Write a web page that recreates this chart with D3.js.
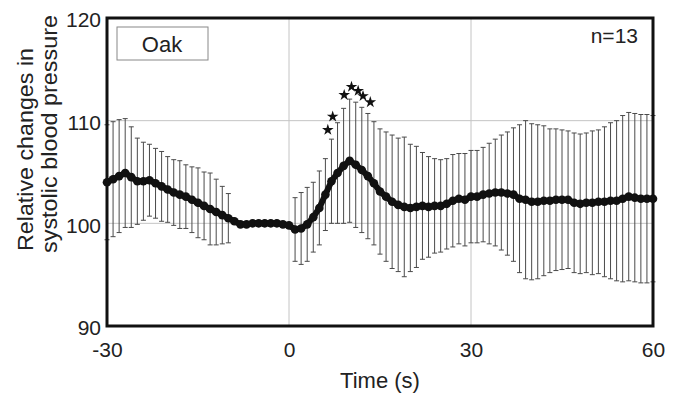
<!DOCTYPE html>
<html>
<head>
<meta charset="utf-8">
<script src="https://cdn.jsdelivr.net/npm/d3@7"></script>
<style>
    body { margin: 0; background: #fff; }
    text { font-family: "Liberation Sans", Arial, sans-serif; fill: #222; }
</style>
</head>
<body>
<div class="chart"></div>
<script>
// time (s) of each averaged sample
var times = [
    -30, -29, -28, -27, -26, -25, -24, -23, -22, -21,
    -20, -19, -18, -17, -16, -15, -14, -13, -12, -11,
    -10, -9, -8, -7, -6, -5, -4, -3, -2, -1,
    0, 1, 2, 3, 4, 5, 6, 7, 8, 9,
    10, 11, 12, 13, 14, 15, 16, 17, 18, 19,
    20, 21, 22, 23, 24, 25, 26, 27, 28, 29,
    30, 31, 32, 33, 34, 35, 36, 37, 38, 39,
    40, 41, 42, 43, 44, 45, 46, 47, 48, 49,
    50, 51, 52, 53, 54, 55, 56, 57, 58, 59,
    60
];

// mean relative systolic pressure
var meanValues = [
    104.0, 104.3, 104.6, 104.9, 104.5, 104.1, 104.1, 104.2, 103.9, 103.6,
    103.3, 103.0, 102.8, 102.6, 102.3, 102.0, 101.7, 101.4, 101.1, 100.8,
    100.5, 100.2, 99.9, 99.9, 100.0, 100.0, 100.0, 100.0, 100.0, 99.9,
    99.8, 99.4, 99.5, 99.9, 100.6, 101.5, 102.8, 104.1, 104.9, 105.6,
    106.1, 105.7, 105.2, 104.6, 103.9, 103.1, 102.6, 102.1, 101.8, 101.6,
    101.5, 101.6, 101.7, 101.6, 101.7, 101.7, 101.9, 102.2, 102.4, 102.3,
    102.6, 102.6, 102.8, 102.9, 103.0, 103.0, 102.9, 102.8, 102.4, 102.3,
    102.1, 102.1, 102.2, 102.2, 102.3, 102.3, 102.3, 102.0, 101.9, 102.0,
    102.0, 102.1, 102.1, 102.2, 102.2, 102.4, 102.6, 102.5, 102.4, 102.4,
    102.4
];

// standard deviation (null = no bar drawn)
var sdValues = [
    5.6, 5.6, 5.5, 5.3, 4.9, 4.2, 3.8, 3.5, 3.4, 3.4,
    3.2, 3.2, 3.3, 3.1, 3.2, 3.4, 3.3, 3.5, 3.2, 2.8,
    2.4, null, null, null, null, null, null, null, null, null,
    null, 3.1, 3.5, 3.6, 3.4, 3.6, 3.5, 4.1, 4.9, 5.6,
    6.0, 6.1, 6.1, 6.1, 6.0, 6.1, 6.3, 6.5, 6.5, 6.8,
    6.2, 5.9, 5.2, 4.9, 4.6, 4.5, 4.4, 4.5, 4.4, 4.5,
    4.5, 4.5, 4.6, 4.9, 5.2, 5.6, 6.0, 6.5, 7.2, 7.7,
    7.6, 7.5, 7.3, 7.0, 6.9, 6.8, 6.7, 6.8, 6.8, 6.8,
    7.0, 7.0, 7.3, 7.6, 7.8, 8.1, 8.2, 8.2, 8.2, 8.2,
    8.1
];

// significance stars
var sigTimes = [6.4, 7.2, 9.1, 10.3, 11.4, 12.2, 13.4];
var sigLevels = [109.1, 110.4, 112.5, 113.3, 112.9, 112.4, 111.8];

var xTicks = [-30, 0, 30, 60];
var yTicks = [90, 100, 110, 120];

var width = 678,
    height = 397,
    margin = {top: 18, right: 25, bottom: 71, left: 107},
    plotW = width - margin.left - margin.right,
    plotH = height - margin.top - margin.bottom;

var data = times.map(function(t, i) {
    return {t: t, mean: meanValues[i], sd: sdValues[i]};
});

var x = d3.scaleLinear().domain([-30, 60]).range([0, plotW]);
var y = d3.scaleLinear().domain([90, 120]).range([plotH, 0]);

var svg = d3.select(".chart").append("svg")
    .attr("width", width)
    .attr("height", height);

var g = svg.append("g")
    .attr("transform", "translate(" + margin.left + "," + margin.top + ")");

// grid lines
g.append("g").selectAll("line")
    .data(xTicks.slice(1, -1))
    .enter().append("line")
    .attr("x1", function(d) { return x(d); })
    .attr("x2", function(d) { return x(d); })
    .attr("y1", 0).attr("y2", plotH)
    .attr("stroke", "#c4c4c4").attr("stroke-width", 1);

g.append("g").selectAll("line")
    .data(yTicks.slice(1, -1))
    .enter().append("line")
    .attr("x1", 0).attr("x2", plotW)
    .attr("y1", function(d) { return y(d); })
    .attr("y2", function(d) { return y(d); })
    .attr("stroke", "#c4c4c4").attr("stroke-width", 1);

// axes (labels only, frame drawn below)
var plainNum = function(d) { return String(d); };

var xAxis = g.append("g")
    .attr("transform", "translate(0," + plotH + ")")
    .call(d3.axisBottom(x).tickValues(xTicks).tickFormat(plainNum).tickSize(0).tickPadding(16));

var yAxis = g.append("g")
    .call(d3.axisLeft(y).tickValues(yTicks).tickFormat(plainNum).tickSize(0).tickPadding(6));

[xAxis, yAxis].forEach(function(a) {
    a.select(".domain").remove();
    a.selectAll("text")
        .attr("font-family", "Liberation Sans, Arial, sans-serif")
        .attr("font-size", 21)
        .attr("fill", "#222");
});
yAxis.selectAll("text").attr("dy", "0.42em");

// error bars
var barData = data.filter(function(d) { return d.sd != null; });
var capW = 2.5;

var bars = g.append("g")
    .attr("stroke", "#4a4a4a")
    .attr("stroke-width", 1);

bars.selectAll(".bar")
    .data(barData)
    .enter().append("line")
    .attr("x1", function(d) { return x(d.t); })
    .attr("x2", function(d) { return x(d.t); })
    .attr("y1", function(d) { return y(d.mean + d.sd); })
    .attr("y2", function(d) { return y(d.mean - d.sd); });

bars.selectAll(".capTop")
    .data(barData)
    .enter().append("line")
    .attr("x1", function(d) { return x(d.t) - capW; })
    .attr("x2", function(d) { return x(d.t) + capW; })
    .attr("y1", function(d) { return y(d.mean + d.sd); })
    .attr("y2", function(d) { return y(d.mean + d.sd); });

bars.selectAll(".capBottom")
    .data(barData)
    .enter().append("line")
    .attr("x1", function(d) { return x(d.t) - capW; })
    .attr("x2", function(d) { return x(d.t) + capW; })
    .attr("y1", function(d) { return y(d.mean - d.sd); })
    .attr("y2", function(d) { return y(d.mean - d.sd); });

// mean line with markers
var line = d3.line()
    .x(function(d) { return x(d.t); })
    .y(function(d) { return y(d.mean); });

g.append("path")
    .datum(data)
    .attr("d", line)
    .attr("fill", "none")
    .attr("stroke", "#111")
    .attr("stroke-width", 6);

g.append("g").selectAll("circle")
    .data(data)
    .enter().append("circle")
    .attr("cx", function(d) { return x(d.t); })
    .attr("cy", function(d) { return y(d.mean); })
    .attr("r", 4.3)
    .attr("fill", "#111");

// stars
var star = d3.symbol().type(d3.symbolStar).size(42);
g.append("g").selectAll("path")
    .data(sigTimes)
    .enter().append("path")
    .attr("d", star)
    .attr("transform", function(d, i) { return "translate(" + x(d) + "," + y(sigLevels[i]) + ")"; })
    .attr("fill", "#111");

// frame
g.append("rect")
    .attr("width", plotW)
    .attr("height", plotH)
    .attr("fill", "none")
    .attr("stroke", "#111")
    .attr("stroke-width", 3);

// legend box
g.append("rect")
    .attr("x", 10).attr("y", 9)
    .attr("width", 91).attr("height", 33)
    .attr("fill", "#fff")
    .attr("stroke", "#888")
    .attr("stroke-width", 1);

g.append("text")
    .attr("x", 55).attr("y", 34)
    .attr("text-anchor", "middle")
    .attr("font-size", 22)
    .text("Oak");

g.append("text")
    .attr("x", plotW - 15).attr("y", 25)
    .attr("text-anchor", "end")
    .attr("font-size", 21)
    .text("n=13");

// axis titles
svg.append("text")
    .attr("x", margin.left + plotW / 2)
    .attr("y", 388)
    .attr("text-anchor", "middle")
    .attr("font-size", 22)
    .text("Time (s)");

svg.append("text")
    .attr("transform", "translate(33,251) rotate(-90)")
    .attr("text-anchor", "start")
    .attr("font-size", 22)
    .attr("textLength", 203)
    .attr("lengthAdjust", "spacingAndGlyphs")
    .text("Relative changes in");

svg.append("text")
    .attr("transform", "translate(57,253) rotate(-90)")
    .attr("text-anchor", "start")
    .attr("font-size", 22)
    .attr("textLength", 238)
    .attr("lengthAdjust", "spacingAndGlyphs")
    .text("systolic blood pressure");
</script>
</body>
</html>
